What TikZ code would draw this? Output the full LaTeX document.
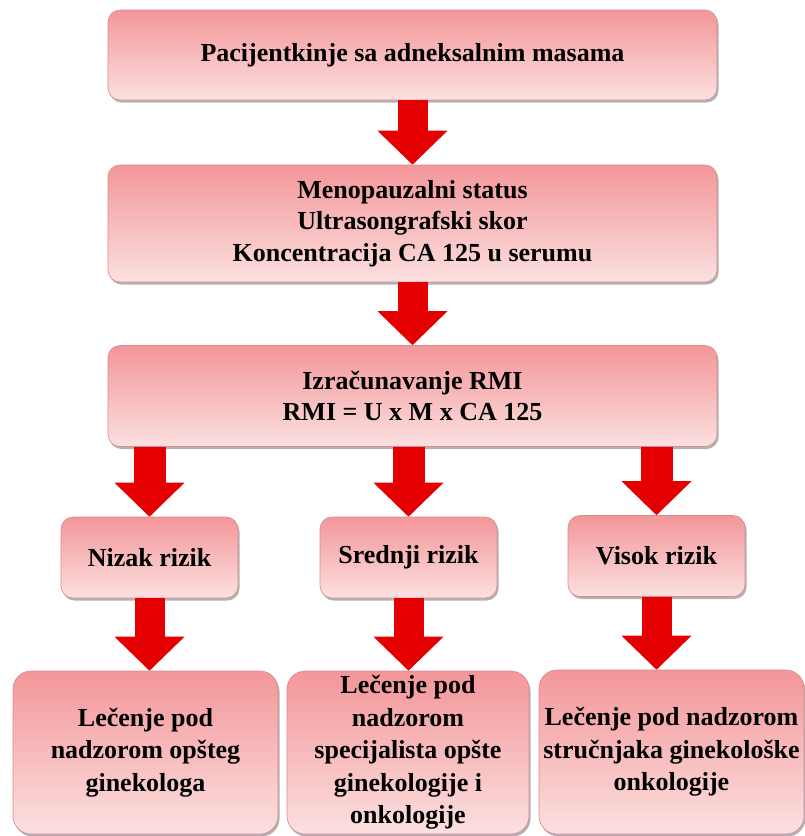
\documentclass[tikz,border=0pt]{standalone}
\usepackage{fontspec}
\setmainfont{Liberation Serif}
\usetikzlibrary{arrows.meta,shadows}

\definecolor{boxtop}{RGB}{243,150,153}
\definecolor{boxbot}{RGB}{252,224,224}
\definecolor{boxline}{RGB}{214,140,142}
\definecolor{arrred}{RGB}{228,0,0}

\tikzset{
	stepbox/.style={rectangle, rounded corners=12pt, draw=boxline, line width=0.6pt,
		top color=boxtop, bottom color=boxbot, inner sep=0pt, align=center,
		drop shadow={shadow xshift=1.5pt, shadow yshift=-2.5pt, fill=black, opacity=0.3},
		font=\bfseries\fontsize{26}{31.5}\selectfont},
	lowbox/.style={stepbox, rounded corners=18pt, font=\bfseries\fontsize{26}{32.5}\selectfont},
	bigarr/.style={draw=arrred, line width=30pt, -{Triangle[width=70pt,length=34pt,line width=0pt]}},
	smallarr/.style={bigarr, line width=32pt}
}

\begin{document}
\begin{tikzpicture}[x=1pt,y=1pt]
	\useasboundingbox (0,0) rectangle (805,-836);
	
	\node [stepbox, minimum width=609pt, minimum height=90pt] (pac) at (412.5,-55) {Pacijentkinje sa adneksalnim masama};
	
	\node [stepbox, minimum width=609pt, minimum height=117pt] (meno) at (412.5,-223.5)
		{Menopauzalni status\\Ultrasongrafski skor\\Koncentracija CA 125 u serumu};
	
	\node [stepbox, minimum width=609pt, minimum height=101pt] (rmi) at (412.5,-396)
		{Izračunavanje RMI\\RMI = U x M x CA 125};
	
	\node [stepbox, minimum width=177pt, minimum height=81pt] (nizak) at (149.5,-557.5) {Nizak rizik};
	\node [stepbox, minimum width=177pt, minimum height=81pt] (srednji) at (408.5,-557.5) {Srednji rizik};
	\node [stepbox, minimum width=177pt, minimum height=81pt] (visok) at (656.5,-556) {Visok rizik};
	
	\node [lowbox, minimum width=265pt, minimum height=163pt] (opsti) at (145.5,-752.5)
		{Lečenje pod\\nadzorom opšteg\\ginekologa};
	\node [lowbox, minimum width=242pt, minimum height=163pt] (spec) at (408,-752.5)
		{Lečenje pod\\nadzorom\\specijalista opšte\\ginekologije i\\onkologije};
	\node [lowbox, minimum width=265pt, minimum height=164pt] (onko) at (671.5,-752)
		{Lečenje pod nadzorom\\stručnjaka ginekološke\\onkologije};
	
	\draw [bigarr] (pac.south) -- (meno.north);
	\draw [bigarr] (meno.south) -- (rmi.north);
	
	\draw [smallarr] (rmi.south -| nizak.north) -- (nizak.north);
	\draw [smallarr] (rmi.south -| srednji.north) -- (srednji.north);
	\draw [smallarr] (rmi.south -| visok.north) -- (visok.north);
	
	\draw [bigarr] (nizak.south) -- (nizak.south |- opsti.north);
	\draw [bigarr] (srednji.south) -- (srednji.south |- spec.north);
	\draw [bigarr] (visok.south) -- (visok.south |- onko.north);
	
\end{tikzpicture}
\end{document}
